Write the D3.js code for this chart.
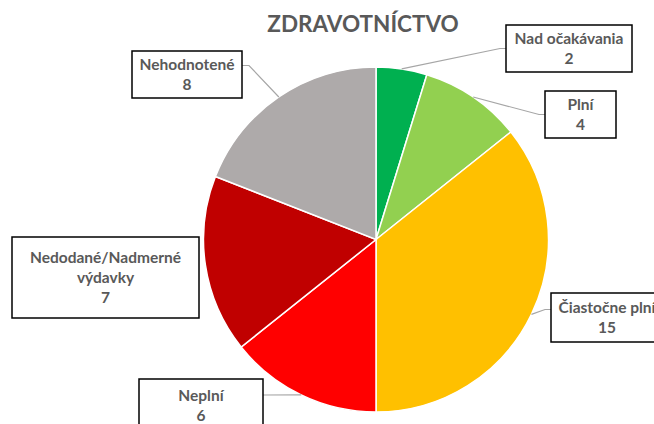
<!DOCTYPE html>
<html>
<head>
<meta charset="utf-8">
<script src="https://cdn.jsdelivr.net/npm/d3@7"></script>
<style>
  body { margin: 0; background: #fff; }
  svg { display: block; font-family: Lato, "Open Sans", sans-serif; }
</style>
</head>
<body>
<div id="chart"></div>
<script>
const title = 'ZDRAVOTNÍCTVO';
const categories = ['Nad očakávania', 'Plní', 'Čiastočne plní', 'Neplní', 'Nedodané/Nadmerné výdavky', 'Nehodnotené'];
const values = [2, 4, 15, 6, 7, 8];
const colors = ['#00B050', '#92D050', '#FFC000', '#FF0000', '#C00000', '#AEAAAA'];
// text lines in each label box (category name can wrap)
const labelLines = [['Nad očakávania'], ['Plní'], ['Čiastočne plní'], ['Neplní'], ['Nedodané/Nadmerné', 'výdavky'], ['Nehodnotené']];

const WIDTH = 654;
const HEIGHT = 424;
const CX = 376;
const CY = 239.5;
const RADIUS = 172.5;

// label box placement (x, y, w, h) and where the leader line bends
const boxes = [
  {x: 506, y: 25, w: 126, h: 47, side: 'left', elbow: 6},
  {x: 545, y: 91, w: 71, h: 47, side: 'left', elbow: 6},
  {x: 551, y: 293, w: 112, h: 49, side: 'left', elbow: 6, dy: -8},
  {x: 139, y: 379, w: 124, h: 52, side: 'right', elbow: 0, dy: -10},
  {x: 12, y: 237, w: 187, h: 81, side: 'none'},
  {x: 132, y: 51, w: 110, h: 47, side: 'right', elbow: 7, dy: -9}
];

const data = categories.map((c, i) => ({name: c, value: values[i], color: colors[i], lines: labelLines[i], box: boxes[i]}));

const svg = d3.select('#chart')
              .append('svg')
              .attr('width', WIDTH)
              .attr('height', HEIGHT);

svg.append('text')
   .attr('x', 363)
   .attr('y', 32)
   .attr('text-anchor', 'middle')
   .style('font-size', '22.5px')
   .style('font-weight', 'bold')
   .style('fill', '#595959')
   .text(title);

const pie = d3.pie()
              .value(d => d.value)
              .sort(null);

const arc = d3.arc()
              .innerRadius(0)
              .outerRadius(RADIUS);

const edgeArc = d3.arc()
                  .innerRadius(RADIUS)
                  .outerRadius(RADIUS);

const arcs = pie(data);

const g = svg.append('g')
             .attr('transform', `translate(${CX}, ${CY})`);

g.selectAll('path.slice')
 .data(arcs)
 .enter()
 .append('path')
 .attr('class', 'slice')
 .attr('d', arc)
 .attr('fill', d => d.data.color)
 .attr('stroke', '#fff')
 .attr('stroke-width', 1.5);

// leader lines: from slice edge to the label box
arcs.forEach(d => {
  const b = d.data.box;
  if (b.side === 'none') return;
  const [px, py] = edgeArc.centroid(d);
  const sx = px + CX;
  const sy = py + CY;
  const ey = b.y + b.h / 2 + (b.dy || 0);
  const ex = b.side === 'left' ? b.x : b.x + b.w;
  const bx = b.side === 'left' ? ex - b.elbow : ex + b.elbow;
  svg.append('polyline')
     .attr('points', `${sx},${sy} ${bx},${ey} ${ex},${ey}`)
     .attr('fill', 'none')
     .attr('stroke', '#A6A6A6')
     .attr('stroke-width', 1.2);
});

const labels = svg.selectAll('g.label')
                  .data(data)
                  .enter()
                  .append('g')
                  .attr('class', 'label');

labels.append('rect')
      .attr('x', d => d.box.x)
      .attr('y', d => d.box.y)
      .attr('width', d => d.box.w)
      .attr('height', d => d.box.h)
      .attr('fill', '#fff')
      .attr('stroke', '#000')
      .attr('stroke-width', 1.5);

labels.each(function(d) {
  const lines = d.lines.concat([String(d.value)]);
  const n = lines.length;
  const midY = d.box.y + d.box.h / 2;
  d3.select(this)
    .selectAll('text')
    .data(lines)
    .enter()
    .append('text')
    .attr('x', d.box.x + d.box.w / 2)
    .attr('y', (t, i) => midY + (i - (n - 1) / 2) * 20 + 5.5)
    .attr('text-anchor', 'middle')
    .style('font-size', '15.5px')
    .style('font-weight', 'bold')
    .style('fill', '#595959')
    .text(t => t);
});
</script>
</body>
</html>
